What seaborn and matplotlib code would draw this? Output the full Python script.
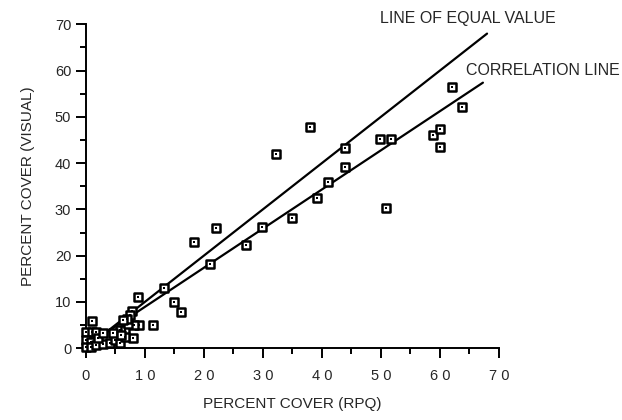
import matplotlib
matplotlib.use('Agg')
import matplotlib.pyplot as plt
import seaborn as sns
import numpy as np
import pandas as pd

# percent cover, RPQ (x) vs visual estimate (y)
rpq = [62.0, 63.8, 58.8, 60.1, 60.1, 49.9, 51.8, 43.9, 43.9, 41.1, 39.1, 38.0,
       32.2, 50.8, 35.0, 29.9, 27.1, 22.0, 18.3, 21.1, 13.2, 8.9, 15.0, 16.1,
       11.3, 9.0, 7.8, 8.0, 8.1,
       1.0, 0.0, 1.0, 1.8, 0.1, 0.8, 0.0, 0.8, 1.8, 2.9, 2.1, 4.1, 4.9, 5.8,
       5.8, 6.6, 7.2, 6.6, 4.6, 6.0, 7.5, 6.9, 6.3, 2.9]
visual = [56.4, 52.1, 46.1, 47.3, 43.4, 45.3, 45.3, 43.2, 39.2, 35.9, 32.5, 47.9,
          41.9, 30.2, 28.1, 26.1, 22.3, 25.9, 23.0, 18.1, 13.0, 11.0, 9.9, 7.8,
          5.1, 5.1, 8.0, 2.1, 5.0,
          5.8, 3.5, 3.5, 3.4, 1.7, 1.4, 0.3, 0.3, 0.6, 1.0, 2.1, 1.1, 1.7, 1.2,
          4.0, 3.9, 5.2, 2.4, 3.2, 2.8, 7.1, 6.4, 6.0, 3.2]

# line of equal value and fitted correlation line
equal_x = [3.0, 68.0]
corr_x = [3.0, 67.3]
corr_slope = 0.846
corr_intercept = 0.46

ticks = list(range(0, 71, 10))
xtick_labels = ['0', '1 0', '2 0', '3 0', '4 0', '5 0', '6 0', '7 0']

df = pd.DataFrame({'rpq': rpq, 'visual': visual})

sns.set_style('ticks')
plt.rcParams['font.family'] = ['Liberation Sans', 'DejaVu Sans']

fig = plt.figure(figsize=(6.22, 4.2), dpi=100)
ax = fig.add_axes([0.138, 0.171, 0.664, 0.771])

ax.plot(equal_x, equal_x, color='black', lw=1.6)
ax.plot(corr_x, [corr_slope * v + corr_intercept for v in corr_x], color='black', lw=1.6)

sns.scatterplot(data=df, x='rpq', y='visual', ax=ax, marker='s', s=36,
                facecolor='white', edgecolor='black', linewidth=1.8, zorder=3,
                clip_on=False)
ax.scatter(df['rpq'], df['visual'], s=3, color='black', marker='s', zorder=4,
           linewidths=0, clip_on=False)

ax.set_xlim(0, 70)
ax.set_ylim(0, 70)
ax.set_xticks(ticks)
ax.set_xticklabels(xtick_labels)
ax.set_yticks(ticks)
ax.set_xticks(range(5, 70, 10), minor=True)
ax.set_yticks(range(5, 70, 10), minor=True)
ax.tick_params(which='major', length=7, width=1.4, labelsize=10.5, direction='out', color='black')
ax.tick_params(which='minor', length=4, width=1.4, direction='out', color='black')
ax.tick_params(axis='x', pad=8)
sns.despine(ax=ax)
for s in ['left', 'bottom']:
    ax.spines[s].set_linewidth(1.4)
    ax.spines[s].set_color('black')

ax.set_xlabel('PERCENT COVER (RPQ)', fontsize=11, labelpad=10)
ax.set_ylabel('PERCENT COVER (VISUAL)', fontsize=11, labelpad=14)

ax.text(49.8, 71.3, 'LINE OF EQUAL VALUE', fontsize=11.5, va='center', ha='left',
        clip_on=False)
ax.text(64.5, 60.0, 'CORRELATION LINE', fontsize=11.5, va='center', ha='left',
        clip_on=False)

plt.savefig('out.png', dpi=100)
